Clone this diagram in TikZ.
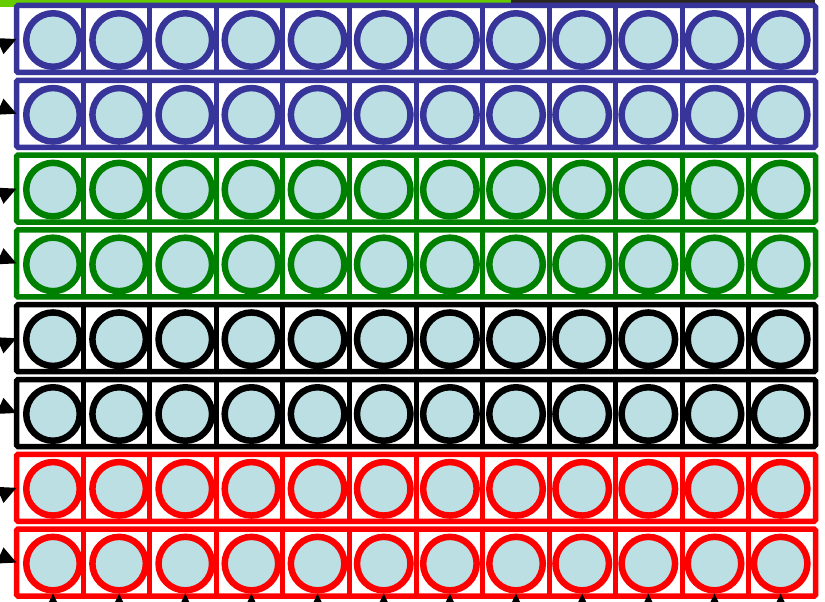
\documentclass[tikz,border=0pt]{standalone}
\usetikzlibrary{arrows.meta,calc}
\definecolor{rowblue}{RGB}{55,52,154}
\definecolor{rowgreen}{RGB}{0,128,0}
\definecolor{rowred}{RGB}{255,0,0}
\definecolor{cellfill}{RGB}{187,223,227}
\definecolor{limestrip}{RGB}{102,204,0}
\definecolor{darkstrip}{RGB}{40,38,30}
\begin{document}
\begin{tikzpicture}[x=1pt,y=-1pt,
  rowbox/.style={draw=#1, line width=5.5pt, fill=white, rounded corners=1.5pt,
    minimum width=799pt, minimum height=67pt, inner sep=0pt, outer sep=0pt},
  divider/.style={draw=#1, line width=5pt},
  ring/.style={circle, draw=#1, line width=6.5pt, fill=cellfill, minimum size=53.5pt, inner sep=0pt},
  sidearrow/.style={draw=black, line width=2pt, -{Triangle[length=18pt,width=17pt]}},
  uparrow/.style={draw=black, line width=2pt, -{Triangle[length=13pt,width=12pt]}}]
\useasboundingbox (0,0) rectangle (825,602);
\clip (0,0) rectangle (825,602);
\fill[white] (0,0) rectangle (825,602);
% background strips at the top edge
\fill[limestrip] (0,0) rectangle (511,7);
\fill[darkstrip] (511,0) rectangle (815,3);
\foreach \col [count=\i from 0] in {rowblue,rowblue,rowgreen,rowgreen,black,black,rowred,rowred}{
  \pgfmathsetmacro\yc{39+74.8*\i}
  \pgfmathtruncatemacro\rn{\i+1}
  \node[rowbox=\col] (r\rn) at (416,\yc) {};
  \foreach \k in {1,...,11}{
    \draw[divider=\col] ($(r\rn.north west)!\k/12!(r\rn.north east)$) -- ($(r\rn.south west)!\k/12!(r\rn.south east)$);
  }
  \foreach \j in {0,...,11}{
    \pgfmathsetmacro\xc{53+66.15*\j}
    \node[ring=\col] (c-\rn-\j) at (\xc,\yc+1) {};
  }
}
% arrows into the rows from the left
\foreach \rn in {1,3,5,7}{
  \draw[sidearrow] ($(r\rn.west)+(-30,13)$) -- (r\rn.west);
}
\foreach \rn in {2,4,6,8}{
  \draw[sidearrow] ($(r\rn.west)+(-30,-13)$) -- (r\rn.west);
}
% arrows up into the bottom row
\foreach \j in {0,...,11}{
  \draw[uparrow] ($(c-8-\j.south)+(0,25)$) -- (c-8-\j.south);
}
\end{tikzpicture}
\end{document}
